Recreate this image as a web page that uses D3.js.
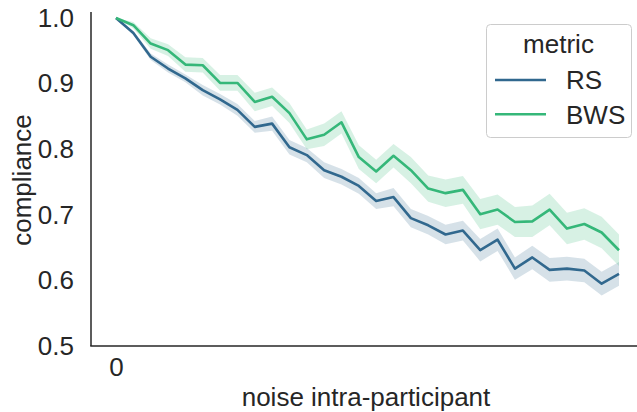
<!DOCTYPE html>
<html>
<head>
<meta charset="utf-8">
<script src="https://cdn.jsdelivr.net/npm/d3@7/dist/d3.min.js"></script>
<style>
  html, body { margin: 0; padding: 0; background: #fff; }
  svg { display: block; font-family: "Liberation Sans", Arial, sans-serif; }
</style>
</head>
<body>
<svg id="chart" width="637" height="412"></svg>
<script>
// Noise steps along the x axis (only the first one is labelled)
const noiseSteps = d3.range(30);
const xTickValues = [0];
const xTickLabels = ["0"];
const yTickValues = [0.5, 0.6, 0.7, 0.8, 0.9, 1.0];

const seriesNames = ["RS", "BWS"];
const seriesColors = ["#31688e", "#35b779"];

// Mean compliance per noise step
const rsMean = [1.000, 0.977, 0.941, 0.923, 0.908, 0.890, 0.876, 0.860, 0.834, 0.839,
                0.803, 0.791, 0.768, 0.758, 0.744, 0.721, 0.727, 0.695, 0.684, 0.670,
                0.676, 0.646, 0.662, 0.618, 0.635, 0.616, 0.618, 0.615, 0.595, 0.610];
const bwsMean = [1.000, 0.989, 0.961, 0.951, 0.929, 0.928, 0.901, 0.901, 0.872, 0.880,
                 0.855, 0.815, 0.822, 0.841, 0.788, 0.766, 0.790, 0.768, 0.740, 0.733,
                 0.738, 0.701, 0.708, 0.689, 0.690, 0.708, 0.679, 0.686, 0.673, 0.646];
// Half-width of the confidence band per noise step
const rsCI = [0.000, 0.003, 0.005, 0.006, 0.006, 0.008, 0.008, 0.009, 0.009, 0.011,
              0.011, 0.011, 0.012, 0.012, 0.012, 0.012, 0.014, 0.014, 0.014, 0.015,
              0.015, 0.017, 0.017, 0.017, 0.018, 0.018, 0.018, 0.018, 0.018, 0.018];
const bwsCI = [0.000, 0.005, 0.008, 0.009, 0.011, 0.011, 0.012, 0.012, 0.014, 0.014,
               0.015, 0.015, 0.017, 0.017, 0.018, 0.018, 0.018, 0.020, 0.020, 0.021,
               0.021, 0.023, 0.023, 0.023, 0.024, 0.024, 0.024, 0.024, 0.024, 0.024];

const series = [
  { name: seriesNames[0], color: seriesColors[0], mean: rsMean, ci: rsCI },
  { name: seriesNames[1], color: seriesColors[1], mean: bwsMean, ci: bwsCI }
];

const svg = d3.select("#chart");
const ink = "#262626";
const fontSize = 26;
const plot = { left: 91, right: 637, top: 12, bottom: 346 };

const x = d3.scaleLinear().domain([0, 29]).range([116, 619]);
const y = d3.scaleLinear().domain([0.5, 1.0]).range([346, 18]);

// Confidence bands
const area = d3.area()
  .x((d, i) => x(noiseSteps[i]))
  .y0(d => y(d[0]))
  .y1(d => y(d[1]));
const line = d3.line()
  .x((d, i) => x(noiseSteps[i]))
  .y(d => y(d));

series.forEach(s => {
  const band = s.mean.map((m, i) => [m - s.ci[i], m + s.ci[i]]);
  svg.append("path")
    .attr("d", area(band))
    .attr("fill", s.color)
    .attr("fill-opacity", 0.2)
    .attr("stroke", "none");
});
series.forEach(s => {
  svg.append("path")
    .attr("d", line(s.mean))
    .attr("fill", "none")
    .attr("stroke", s.color)
    .attr("stroke-width", 2.6)
    .attr("stroke-linejoin", "round");
});

// Axes (spines only, no tick marks)
const yAxis = d3.axisLeft(y).tickValues(yTickValues).tickSize(0).tickPadding(17)
  .tickFormat(d3.format(".1f"));
const gy = svg.append("g").attr("transform", `translate(${plot.left},0)`).call(yAxis);
gy.select(".domain").remove();
gy.selectAll("text").attr("font-size", fontSize).attr("fill", ink)
  .attr("font-family", "'Liberation Sans', Arial, sans-serif");

const xAxis = d3.axisBottom(x).tickValues(xTickValues).tickSize(0).tickPadding(12)
  .tickFormat((d, i) => xTickLabels[i]);
const gx = svg.append("g").attr("transform", `translate(0,${plot.bottom})`).call(xAxis);
gx.select(".domain").remove();
gx.selectAll("text").attr("font-size", fontSize).attr("fill", ink)
  .attr("font-family", "'Liberation Sans', Arial, sans-serif");

svg.append("line")
  .attr("x1", plot.left).attr("x2", plot.left)
  .attr("y1", plot.top).attr("y2", plot.bottom)
  .attr("stroke", ink).attr("stroke-width", 1.5);
svg.append("line")
  .attr("x1", plot.left - 0.75).attr("x2", plot.right)
  .attr("y1", plot.bottom).attr("y2", plot.bottom)
  .attr("stroke", ink).attr("stroke-width", 1.5);

// Axis titles
svg.append("text")
  .attr("x", 366).attr("y", 406)
  .attr("text-anchor", "middle")
  .attr("font-size", fontSize).attr("fill", ink)
  .text("noise intra-participant");
svg.append("text")
  .attr("transform", "translate(31,180) rotate(-90)")
  .attr("text-anchor", "middle")
  .attr("font-size", fontSize).attr("fill", ink)
  .text("compliance");

// Legend
const lg = svg.append("g");
lg.append("rect")
  .attr("x", 486.5).attr("y", 24.5).attr("width", 145).attr("height", 113)
  .attr("rx", 4).attr("ry", 4)
  .attr("fill", "#ffffff").attr("fill-opacity", 0.8)
  .attr("stroke", "#cccccc").attr("stroke-width", 1);
lg.append("text")
  .attr("x", 558.5).attr("y", 53)
  .attr("text-anchor", "middle")
  .attr("font-size", fontSize).attr("fill", ink)
  .text("metric");
series.forEach((s, i) => {
  const yy = 80 + i * 34.3;
  lg.append("line")
    .attr("x1", 495).attr("x2", 546)
    .attr("y1", yy).attr("y2", yy)
    .attr("stroke", s.color).attr("stroke-width", 2.6);
  lg.append("text")
    .attr("x", 566).attr("y", yy + 9.3)
    .attr("font-size", fontSize).attr("fill", ink)
    .text(s.name);
});
</script>
</body>
</html>
